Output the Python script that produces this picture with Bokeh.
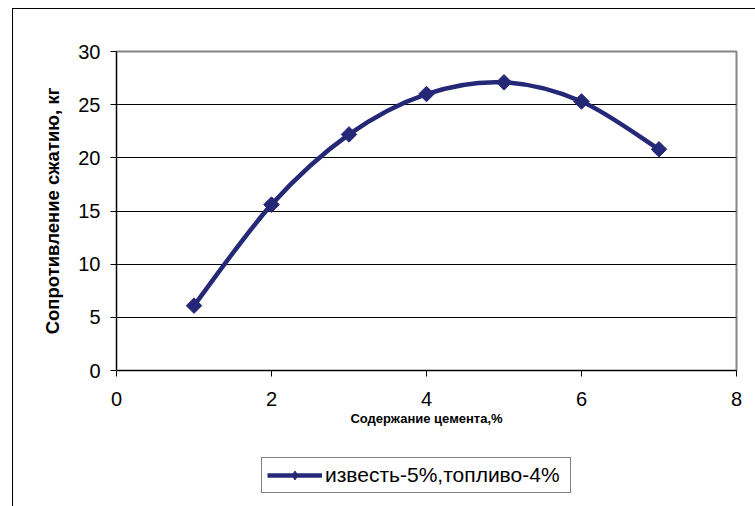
import math
from bokeh.plotting import figure
from bokeh.layouts import column
from bokeh.models import Legend, LegendItem, Range1d, FixedTicker
from bokeh.embed import file_html
from bokeh.resources import INLINE

# data
cement = [1, 2, 3, 4, 5, 6, 7]
strength = [6.1, 15.6, 22.2, 26.0, 27.1, 25.3, 20.8]
series_name = "известь-5%,топливо-4%"
x_ticks = [0, 2, 4, 6, 8]
y_ticks = [0, 5, 10, 15, 20, 25, 30]

FONT = "Liberation Sans"
COLOR = "#252877"

p = figure(width=742, height=431, output_backend="svg", toolbar_location=None,
           x_range=Range1d(0, 8), y_range=Range1d(0, 30),
           min_border_left=103, min_border_right=19, min_border_top=42, min_border_bottom=70)
p.background_fill_color = "white"
p.outline_line_color = "#868686"
p.outline_line_width = 2

# grid
p.xgrid.visible = False
p.ygrid.ticker = FixedTicker(ticks=y_ticks)
p.ygrid.grid_line_color = "black"
p.ygrid.grid_line_width = 1

# axes
p.xaxis.ticker = FixedTicker(ticks=x_ticks)
p.yaxis.ticker = FixedTicker(ticks=y_ticks)
for ax in (p.xaxis[0], p.yaxis[0]):
    ax.axis_line_color = "black"
    ax.axis_line_width = 1
    ax.major_tick_line_color = "black"
    ax.major_tick_out = 6
    ax.major_tick_in = 0
    ax.minor_tick_line_color = None
    ax.major_label_text_font = FONT
    ax.major_label_text_color = "black"
    ax.major_label_text_font_size = "20px"
    ax.axis_label_text_font = FONT
    ax.axis_label_text_font_style = "bold"
    ax.axis_label_text_color = "black"

p.xaxis.axis_label = "Содержание цемента,%"
p.xaxis.axis_label_text_font_size = "13px"
p.xaxis.major_label_standoff = 15
p.xaxis.axis_label_standoff = 2
p.yaxis.axis_label = "Сопротивление сжатию, кг"
p.yaxis.axis_label_text_font_size = "18.5px"
p.yaxis.major_label_standoff = 10
p.yaxis.axis_label_standoff = 12

# smoothed curve (Bezier segments through the data points)
n = len(cement)
x0, y0, x1, y1, cx0, cy0, cx1, cy1 = [], [], [], [], [], [], [], []
for i in range(n - 1):
    ip = max(i - 1, 0)
    i2 = min(i + 2, n - 1)
    x0.append(cement[i]); y0.append(strength[i])
    x1.append(cement[i + 1]); y1.append(strength[i + 1])
    cx0.append(cement[i] + (cement[i + 1] - cement[ip]) / 6)
    cy0.append(strength[i] + (strength[i + 1] - strength[ip]) / 6)
    cx1.append(cement[i + 1] - (cement[i2] - cement[i]) / 6)
    cy1.append(strength[i + 1] - (strength[i2] - strength[i]) / 6)
p.bezier(x0=x0, y0=y0, x1=x1, y1=y1, cx0=cx0, cy0=cy0, cx1=cx1, cy1=cy1,
         line_color=COLOR, line_width=4.5)
p.scatter(x=cement, y=strength, marker="square", angle=math.pi / 4, size=11,
          fill_color=COLOR, line_color=COLOR)

# legend strip (series drawn off-range there; only its legend glyph shows)
p2 = figure(width=742, height=66, output_backend="svg", toolbar_location=None,
            x_range=Range1d(100, 101), y_range=Range1d(100, 101),
            x_axis_location=None, y_axis_location=None,
            min_border_left=0, min_border_right=0, min_border_top=0, min_border_bottom=0)
p2.grid.visible = False
p2.outline_line_color = None
lr = p2.line(x=cement, y=strength, line_color=COLOR, line_width=4.5)
sr = p2.scatter(x=cement, y=strength, marker="diamond", size=19,
                fill_color=COLOR, line_color=COLOR)
legend = Legend(items=[LegendItem(label=series_name, renderers=[lr, sr], index=0)],
                location=(145, 13), orientation="horizontal")
legend.label_text_font = FONT
legend.label_text_font_size = "21px"
legend.label_text_color = "black"
legend.glyph_width = 55
legend.glyph_height = 22
legend.label_standoff = 3
legend.label_width = 240
legend.label_height = 22
legend.padding = 5
legend.margin = 0
legend.spacing = 0
legend.border_line_color = "black"
legend.border_line_width = 1
legend.background_fill_color = "white"
p2.add_layout(legend, "center")

layout = column(p, p2, spacing=0,
                styles={"margin-left": "12px", "margin-top": "8px",
                        "border-left": "1px solid black", "border-top": "1px solid black"})

open("out.html", "w").write(file_html(layout, INLINE))
